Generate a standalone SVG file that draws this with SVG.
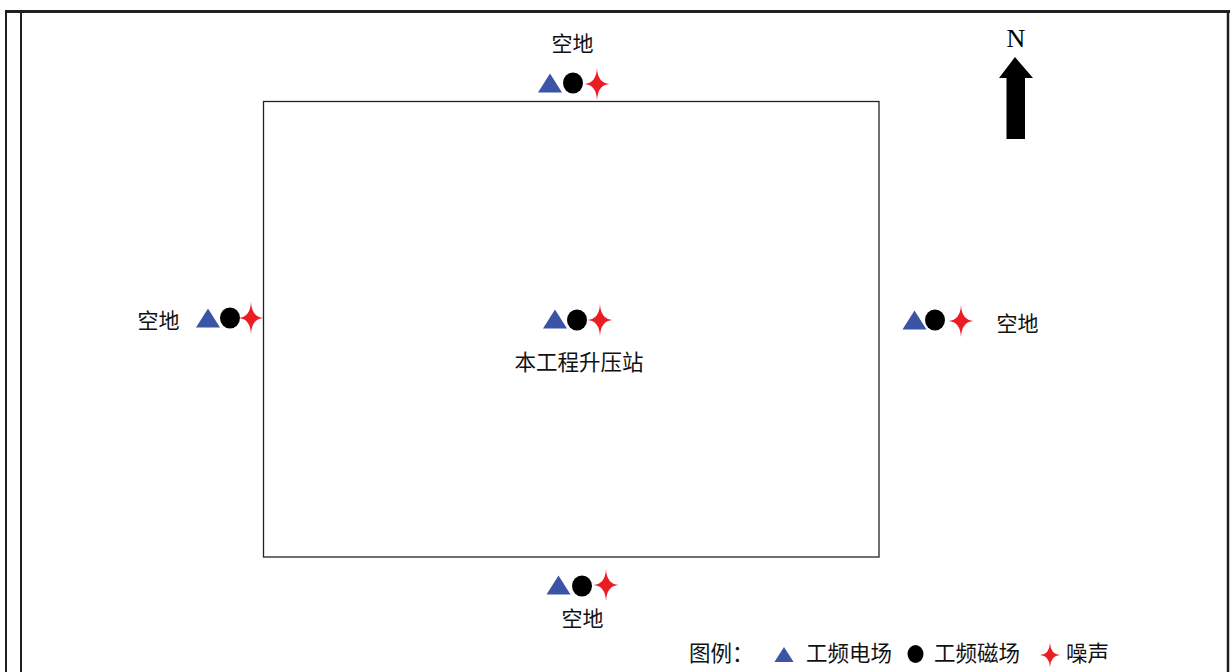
<svg xmlns="http://www.w3.org/2000/svg" width="1230" height="672" viewBox="0 0 1230 672">
<style>
.t{font-family:"Noto Sans CJK SC","Noto Sans",sans-serif;font-size:21px;fill:#111;text-anchor:middle}
.lg{font-family:"Noto Sans CJK SC","Noto Sans",sans-serif;font-size:21.5px;fill:#111}
.frame{stroke:#231f20;fill:none}
</style>
<defs>
<polygon id="tri" points="0,-9.5 12,9.5 -12,9.5" fill="#3a54a6"/>
<ellipse id="dot" cx="0" cy="0" rx="10" ry="10.5" fill="#000"/>
<path id="star" d="M0,-16 Q0.8,-0.8 12.5,0 Q0.8,0.8 0,16 Q-0.8,0.8 -12.5,0 Q-0.8,-0.8 0,-16 Z" fill="#ec1c24"/>
</defs>
<g id="frame">
<line class="frame" x1="5" y1="11.5" x2="1230" y2="11.5" stroke-width="3"/>
<line class="frame" x1="6" y1="10" x2="6" y2="672" stroke-width="2"/>
<line class="frame" x1="21" y1="10" x2="21" y2="672" stroke-width="2"/>
<line class="frame" x1="1228" y1="10" x2="1228" y2="672" stroke-width="2.5"/>
</g>
<g id="station">
<rect x="263.5" y="101.5" width="615.5" height="455.5" fill="none" stroke="#222" stroke-width="1.3"/>
<use href="#tri" x="555" y="319"/>
<use href="#dot" x="577" y="320"/>
<use href="#star" x="600" y="320"/>
<text class="t" x="579" y="370" style="font-size:21.5px">本工程升压站</text>
</g>
<g id="north-site">
<text class="t" x="572.5" y="51">空地</text>
<use href="#tri" x="550" y="83"/>
<use href="#dot" x="573" y="83"/>
<use href="#star" x="597" y="84"/>
</g>
<g id="west-site">
<text class="t" x="158.5" y="328">空地</text>
<use href="#tri" x="208" y="318"/>
<use href="#dot" x="230" y="318"/>
<use href="#star" x="251" y="318"/>
</g>
<g id="east-site">
<use href="#tri" x="914.5" y="320"/>
<use href="#dot" x="935" y="320"/>
<use href="#star" x="961" y="321"/>
<text class="t" x="1017.5" y="331">空地</text>
</g>
<g id="south-site">
<use href="#tri" x="558.5" y="585"/>
<use href="#dot" x="582" y="586"/>
<use href="#star" x="606" y="585"/>
<text class="t" x="582.5" y="626">空地</text>
</g>
<g id="north-arrow">
<text x="1016" y="47" font-family="Liberation Serif, serif" font-size="26" text-anchor="middle" fill="#000">N</text>
<polygon points="1015,57 1033,78 1025,78 1025,139 1006.5,139 1006.5,78 999,78" fill="#000"/>
</g>
<g id="legend">
<text class="lg" x="689" y="661">图例：</text>
<use href="#tri" transform="translate(784,654.5) scale(0.8)"/>
<text class="lg" x="806" y="661">工频电场</text>
<use href="#dot" transform="translate(915.5,654) scale(0.8,0.85)"/>
<text class="lg" x="934" y="661">工频磁场</text>
<use href="#star" transform="translate(1050,655) scale(0.8,0.75)"/>
<text class="lg" x="1066" y="661">噪声</text>
</g>
</svg>
